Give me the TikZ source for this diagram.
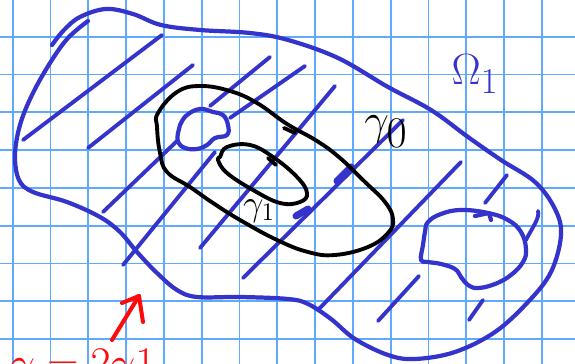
\documentclass[tikz,border=0pt]{standalone}
\definecolor{penblue}{RGB}{52,52,204}
\definecolor{gridblue}{RGB}{95,170,255}
\definecolor{penred}{RGB}{255,10,10}
\begin{document}
\begin{tikzpicture}[x=0.02cm, y=-0.02cm,
  gridline/.style={gridblue, line width=1.1pt},
  rim/.style={penblue, line width=2.4pt, line cap=round, line join=round},
  hatchline/.style={penblue, line width=2.2pt, line cap=round},
  blackline/.style={black, line width=2.2pt, line cap=round, line join=round},
  redpen/.style={penred, line width=2.3pt, line cap=round, line join=round},
  tag/.style={inner sep=0pt}
]
  \useasboundingbox (0,0) rectangle (575,364);
  \clip (0,0) rectangle (575,364);
  \fill[white] (0,0) rectangle (575,364);

  % grid paper
  \foreach \i in {0,...,14}
    \draw[gridline] ({12.7+37.8*\i},0) -- ({12.7+37.8*\i},364);
  \foreach \j in {0,...,8}
    \draw[gridline] (0,{36.7+37.8*\j}) -- (575,{36.7+37.8*\j});

  % outer boundary of the region
  \draw[rim] plot[smooth, tension=0.6] coordinates {
    (52,45) (64,30) (80,17) (106,9) (133,14) (161,25) (200,30) (250,33)
    (288,40) (338,58) (388,87) (431,110) (468,137) (501,160) (535,182)
    (555,209) (561,235) (551,272) (528,302) (495,332) (455,352) (415,359)
    (388,355) (355,339) (331,319) (308,304) (288,299) (240,297) (197,297)
    (177,290) (157,273) (137,252) (120,232) (100,217) (67,202) (33,192)
    (19,180) (15,155) (20,125) (32,95) (50,63) (68,38) (88,21)};

  % holes
  \draw[rim] plot[smooth cycle, tension=0.7] coordinates {
    (180,125) (187,115) (200,109) (213,112) (223,115) (228,125) (227,135)
    (215,138) (207,145) (197,149) (185,148) (178,142) (178,133)};
  \draw[rim] plot[smooth cycle, tension=0.7] coordinates {
    (428,222) (441,214) (461,210) (488,213) (508,220) (521,232) (526,249)
    (523,262) (511,275) (495,284) (478,288) (468,285) (461,277) (455,269)
    (441,264) (428,262) (421,260) (423,245) (425,232)};
  \draw[rim] (475,216) -- (489,213) -- (491,220);

  % hatching
  \draw[hatchline] (23,140) -- (162,35);
  \draw[hatchline] (88,148) -- (193,65);
  \draw[hatchline] (210,106) -- (270,57);
  \draw[hatchline] (230,118) -- (305,66);
  \draw[hatchline] (103,212) -- (177,141);
  \draw[hatchline] (123,265) -- (215,152);
  \draw[hatchline] (200,248) -- (335,86);
  \draw[hatchline] (243,278) -- (403,120);
  \draw[hatchline, line width=4pt] (296,216) -- (308,209);
  \draw[hatchline, line width=4pt] (337,181) -- (351,167);
  \draw[hatchline] (318,310) -- (461,162);
  \draw[hatchline] (485,203) -- (507,175);
  \draw[hatchline] (378,321) -- (419,276);
  \draw[hatchline] (469,320) -- (483,300);
  \draw[hatchline] (526,240) .. controls (532,228) and (540,218) .. (538,211);

  % the two black loops
  \draw[blackline] plot[smooth cycle, tension=0.7] coordinates {
    (158,113) (177,92) (200,86) (230,91) (257,103) (287,124) (317,141)
    (340,158) (365,182) (385,202) (393,219) (388,233) (368,247) (335,255)
    (308,252) (277,240) (240,220) (213,203) (190,187) (167,172) (160,153)
    (157,127)};
  \draw[blackline] (284,128) -- (295,133);
  \draw[blackline] plot[smooth cycle, tension=0.7] coordinates {
    (220,157) (227,147) (250,145) (273,157) (297,177) (307,193) (300,202)
    (280,203) (253,190) (227,173) (218,160)};
  \draw[blackline] (268,158) -- (276,165);

  % labels
  \node[tag, text=penblue, font=\fontsize{28}{28}\selectfont] (omega) at (475,74) {$\Omega_1$};
  \node[tag, font=\fontsize{36}{36}\selectfont] (gzero) at (386,132) {$\gamma_0$};
  \node[tag, font=\fontsize{22}{22}\selectfont] (gone) at (259,211) {$\gamma_1$};

  % red note at the bottom, cut by the edge of the page
  \node[tag, anchor=base west, text=penred, font=\fontsize{26}{26}\selectfont] (note) at (10,378) {$\gamma=2\gamma1$};
  \coordinate (tail) at (112,340);
  \coordinate (tip) at (139,296);
  \draw[redpen] (tail) -- (tip);
  \draw[redpen] (122,303) -- (tip) -- (143,322);
\end{tikzpicture}
\end{document}
